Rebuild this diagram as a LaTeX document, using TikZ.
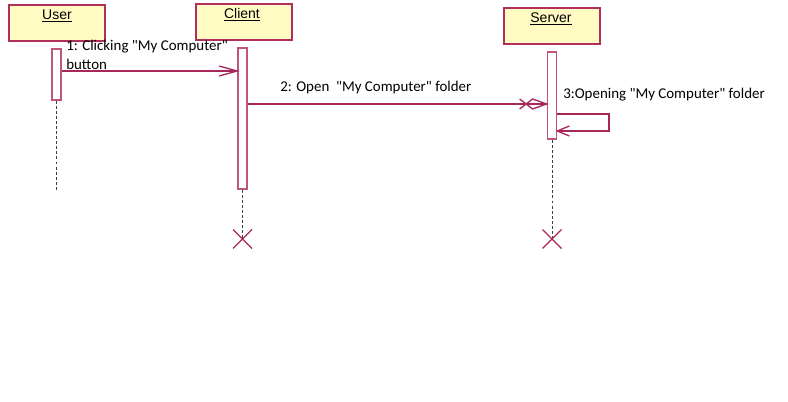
\documentclass[tikz,border=0pt]{standalone}
\usepackage{fontspec}
\setmainfont{Carlito}[Ligatures=TeXOff]
\newfontfamily\arialfont{Liberation Sans}
\usetikzlibrary{calc}
\begin{document}
\begin{tikzpicture}[x=0.75pt,y=-0.75pt,
  actor/.style={draw=boxred,fill=boxyellow,line width=1.2pt,minimum width=96*0.75pt,minimum height=36*0.75pt,inner sep=0pt,anchor=north west},
  actbar/.style={draw=barpink,fill=white,line width=1.3pt,minimum width=9*0.75pt,inner sep=0pt,anchor=north},
  lifeline/.style={draw=black!75,dashed,dash pattern=on 2.2pt off 1.6pt,line width=0.7pt},
  msg/.style={draw=msgred,line width=1pt},
  lbl/.style={font=\fontsize{11.2pt}{13pt}\selectfont,inner sep=0pt,anchor=west,align=left},
  ttl/.style={font=\arialfont\fontsize{10.5pt}{12pt}\selectfont},
  xmark/.style={draw=msgred,line width=1pt}]
\definecolor{boxred}{HTML}{B0305A}
\definecolor{boxyellow}{HTML}{FFFBC2}
\definecolor{barpink}{HTML}{C0557A}
\definecolor{msgred}{HTML}{A8285A}
\useasboundingbox (0,0) rectangle (788,402);
\fill[white] (0,0) rectangle (788,402);
% actors
\node[actor] (user) at (8,4) {};
\node[ttl] at (57,16) {\underline{User}};
\node[actor] (client) at (195,3) {};
\node[ttl] at (242,15) {\underline{Client}};
\node[actor] (server) at (503,7) {};
\node[ttl] at (551,19) {\underline{Server}};
% activation bars
\node[actbar,minimum height=51*0.75pt] (ubar) at (56.5,48) {};
\node[actbar,minimum height=141*0.75pt] (cbar) at (242.5,47) {};
\node[actbar,minimum height=87*0.75pt] (sbar) at (552,51) {};
% end coordinates
\coordinate (uend) at (56.5,190);
\coordinate (cx) at (242.5,239);
\coordinate (sx) at (552,239);
% lifelines
\draw[lifeline] (ubar.south) -- (uend);
\draw[lifeline] (cbar.south) -- (cx);
\draw[lifeline] (sbar.south) -- (sx);
% destruction marks
\draw[xmark] ($(cx)+(-9.5,-9.5)$) -- ($(cx)+(9.5,9.5)$) ($(cx)+(-9.5,9.5)$) -- ($(cx)+(9.5,-9.5)$);
\draw[xmark] ($(sx)+(-9.5,-9.5)$) -- ($(sx)+(9.5,9.5)$) ($(sx)+(-9.5,9.5)$) -- ($(sx)+(9.5,-9.5)$);
% message 1
\coordinate (m1s) at (ubar.east |- 0,71);
\coordinate (m1e) at (cbar.west |- 0,71);
\draw[msg] (m1s) -- (m1e);
\draw[msg] ($(m1e)+(-18,-5)$) -- (m1e) -- ($(m1e)+(-18,5)$);
\node[lbl] (l1) at (66,47) {1: Clicking "My Computer"};
\node[lbl] (l1b) at (66,64) {button};
% message 2
\coordinate (m2s) at (cbar.east |- 0,104);
\coordinate (m2e) at (sbar.west |- 0,104);
\draw[msg] (m2s) -- (m2e);
\draw[msg] ($(m2e)+(-27,-5)$) -- ($(m2e)+(-14,5)$) -- (m2e) -- ($(m2e)+(-14,-5)$) -- ($(m2e)+(-27,5)$);
\node[lbl] (l2) at (280,88) {2: Open\ \ "My Computer" folder};
% message 3 (self)
\coordinate (m3s) at (sbar.east |- 0,114);
\coordinate (m3e) at (sbar.east |- 0,131);
\draw[msg] (m3s) -- (609,114) -- (609,131) -- (m3e);
\draw[msg] ($(m3e)+(12,-5)$) -- (m3e) -- ($(m3e)+(12,5)$);
\node[lbl] (l3) at (563,95) {3:Opening "My Computer" folder};
\end{tikzpicture}
\end{document}
